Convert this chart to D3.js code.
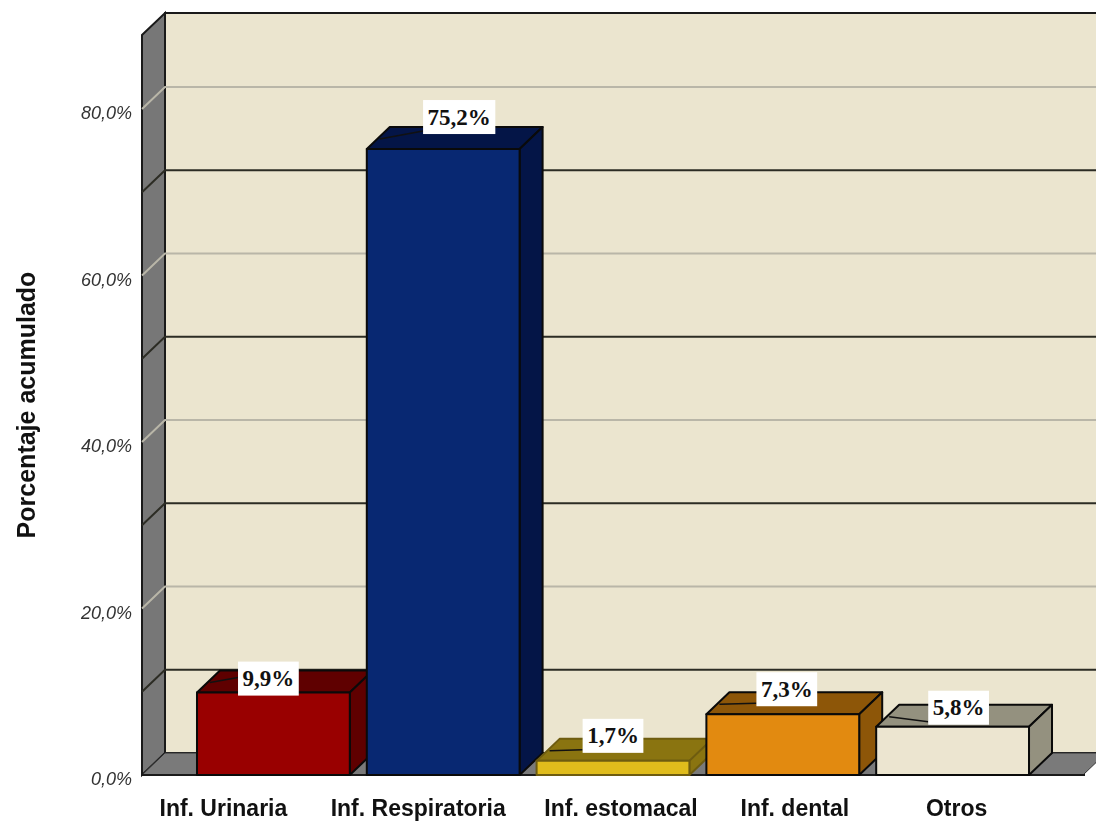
<!DOCTYPE html>
<html>
<head>
<meta charset="utf-8">
<script src="https://cdn.jsdelivr.net/npm/d3@7"></script>
<style>
  html, body { margin: 0; padding: 0; background: #fff; overflow: hidden; }
  svg { display: block; filter: blur(0.5px); }
</style>
</head>
<body>
<div id="chart"></div>
<script>
// chart values
var categories = ["Inf. Urinaria", "Inf. Respiratoria", "Inf. estomacal", "Inf. dental", "Otros"];
var values = [9.9, 75.2, 1.7, 7.3, 5.8];
var frontColors = ["#990000", "#082872", "#e0bc1c", "#e28a10", "#ece5d0"];
var shadeColors = ["#5f0000", "#041547", "#8a7410", "#8d5608", "#94917f"];
var majorTicks = [0, 20, 40, 60, 80];
var minorTicks = [10, 30, 50, 70];

// hand placed offsets of the original labels, in pixels from the bar
var nameShift = [-50, -25, 8, 12, 4];
var boxShiftX = [-5, 16, 0, 4, 6];
var boxShiftY = [-14, -32, -25, -25, -19];

var width = 1096, height = 823;
var depthX = 23, depthY = 22;   // 3d offset of the back wall
var left = 142, right = 1063;

var svg = d3.select("#chart")
  .append("svg")
    .attr("width", width)
    .attr("height", height);

var x = d3.scaleBand()
  .domain(categories)
  .range([188.5, 1037.5])
  .paddingInner(0.1)
  .paddingOuter(0.05);

var y = d3.scaleLinear()
  .domain([0, 88.9])
  .range([775, 35]);

function poly(points) {
  return points.map(function(p) { return p.join(","); }).join(" ");
}

// back wall, left wall and floor
svg.append("rect")
  .attr("x", left + depthX).attr("y", y(88.9) - depthY)
  .attr("width", width - left - depthX + 5).attr("height", y(0) - y(88.9))
  .attr("fill", "#ebe5cf").attr("stroke", "#1a1a1a").attr("stroke-width", 2);

svg.append("polygon")
  .attr("points", poly([[left, y(0)], [left, y(88.9)], [left + depthX, y(88.9) - depthY], [left + depthX, y(0) - depthY]]))
  .attr("fill", "#777").attr("stroke", "#1a1a1a").attr("stroke-width", 2);

svg.append("polygon")
  .attr("points", poly([[left, y(0)], [left + depthX, y(0) - depthY], [right + depthX + 20, y(0) - depthY], [right + 20, y(0)]]))
  .attr("fill", "#7a7a7a").attr("stroke", "#333").attr("stroke-width", 1);

svg.append("line")
  .attr("x1", left).attr("x2", right + 22)
  .attr("y1", y(0)).attr("y2", y(0))
  .attr("stroke", "#1a1a1a").attr("stroke-width", 2);

// grid lines, bending from the left wall onto the back wall
function gridLine(v, color, w) {
  svg.append("polyline")
    .attr("points", poly([[left, y(v)], [left + depthX, y(v) - depthY], [width, y(v) - depthY]]))
    .attr("fill", "none").attr("stroke", color).attr("stroke-width", w);
}
majorTicks.slice(1).forEach(function(v) { gridLine(v, "#b9b6a8", 2); });
minorTicks.forEach(function(v) { gridLine(v, "#2c2c24", 2); });

// bars, left to right so that each one covers the side of the previous one
var bars = svg.selectAll("g.bar")
  .data(values)
  .enter()
  .append("g")
    .attr("class", "bar");

bars.each(function(d, i) {
  var g = d3.select(this);
  var x0 = x(categories[i]), x1 = x0 + x.bandwidth();
  g.append("polygon")
    .attr("points", poly([[x0, y(d)], [x0 + depthX, y(d) - depthY], [x1 + depthX, y(d) - depthY], [x1, y(d)]]))
    .attr("fill", shadeColors[i]);
  g.append("polygon")
    .attr("points", poly([[x1, y(d)], [x1 + depthX, y(d) - depthY], [x1 + depthX, y(0) - depthY], [x1, y(0)]]))
    .attr("fill", shadeColors[i]);
  g.append("rect")
    .attr("x", x0).attr("y", y(d))
    .attr("width", x.bandwidth()).attr("height", y(0) - y(d))
    .attr("fill", frontColors[i]);
  g.selectAll("polygon, rect")
    .attr("stroke", i == 2 ? "#6e5c10" : "#0a0a0a")
    .attr("stroke-width", 2)
    .attr("stroke-linejoin", "round");
});

// value axis
var yAxis = d3.axisLeft(y)
  .tickValues(majorTicks)
  .tickSize(0)
  .tickPadding(10)
  .tickFormat(function(d) { return d3.format(".1f")(d).replace(".", ",") + "%"; });

svg.append("g")
  .attr("transform", "translate(" + left + ",0)")
  .call(yAxis)
  .call(function(g) { g.select(".domain").remove(); })
  .selectAll("text")
    .attr("dy", "0.55em")
    .style("font-family", "'Liberation Sans', Arial, sans-serif")
    .style("font-style", "italic")
    .style("font-size", "18px")
    .style("fill", "#333");

// category axis
var xAxis = d3.axisBottom(x)
  .tickSize(0)
  .tickPadding(0);

svg.append("g")
  .attr("transform", "translate(0," + y(0) + ")")
  .call(xAxis)
  .call(function(g) { g.select(".domain").remove(); })
  .selectAll("text")
    .attr("x", function(d, i) { return nameShift[i]; })
    .attr("y", 25)
    .style("font-family", "'Liberation Sans', Arial, sans-serif")
    .style("font-weight", "bold")
    .style("font-size", "23px")
    .style("fill", "#111");

svg.append("text")
  .attr("transform", "translate(35,405) rotate(-90)")
  .attr("text-anchor", "middle")
  .style("font-family", "'Liberation Sans', Arial, sans-serif")
  .style("font-weight", "bold")
  .style("font-size", "25px")
  .style("fill", "#111")
  .text("Porcentaje acumulado");

// value labels with their leader lines
var labels = svg.selectAll("g.label")
  .data(values)
  .enter()
  .append("g")
    .attr("class", "label")
    .attr("transform", function(d, i) {
      return "translate(" + (x(categories[i]) + x.bandwidth() / 2 + boxShiftX[i]) + "," + (y(d) + boxShiftY[i]) + ")";
    });

var leaders = labels.append("line")
  .attr("stroke", "#111")
  .attr("stroke-width", 1.5);

var boxes = labels.append("rect").attr("fill", "#fff");

var labelText = labels.append("text")
  .attr("text-anchor", "middle")
  .attr("dy", "0.33em")
  .style("font-family", "'Liberation Serif', 'Times New Roman', serif")
  .style("font-weight", "bold")
  .style("font-size", "23px")
  .style("fill", "#111")
  .text(function(d) { return d3.format(".1f")(d).replace(".", ",") + "%"; });

labelText.each(function(d, i) {
  var w = this.getComputedTextLength() + 9;
  d3.select(boxes.nodes()[i])
    .attr("x", -w / 2).attr("y", -17)
    .attr("width", w).attr("height", 34);
  // leader runs from the top face of the bar to the box
  var cx = x(categories[i]) + x.bandwidth() / 2 + boxShiftX[i];
  var cy = y(d) + boxShiftY[i];
  d3.select(leaders.nodes()[i])
    .attr("x1", x(categories[i]) + 13 - cx)
    .attr("y1", y(d) - 10 - cy)
    .attr("x2", -w / 2)
    .attr("y2", 14 - (i == 0 ? 15 : 0));
});
</script>
</body>
</html>
